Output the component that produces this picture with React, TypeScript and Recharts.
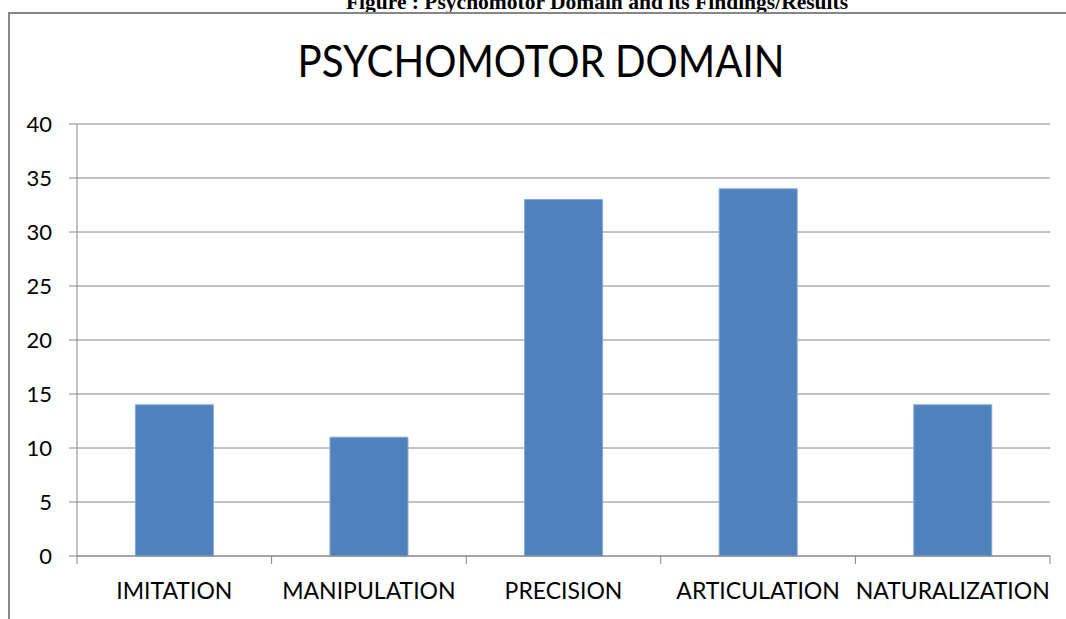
import { BarChart, Bar, XAxis, YAxis, CartesianGrid } from "recharts";

// Psychomotor domain findings
const categories = [
  "IMITATION",
  "MANIPULATION",
  "PRECISION",
  "ARTICULATION",
  "NATURALIZATION",
];
const values = [14, 11, 33, 34, 14];
const yTicks = [0, 5, 10, 15, 20, 25, 30, 35, 40];

const data = categories.map((name, i) => ({ name, value: values[i] }));

const CHART_W = 1058;
const CHART_H = 611;
const MARGIN = { top: 116, right: 16, left: 9, bottom: 13 };
const Y_AXIS_W = 60;
const PLOT_W = CHART_W - MARGIN.left - MARGIN.right - Y_AXIS_W;
const BAND = PLOT_W / categories.length;
const GREY = "#868686";
const FONT = "Lato, 'Open Sans', sans-serif";

// category ticks sit on band boundaries, labels in the middle
function XTick(props: any) {
  const { x, y, payload, index } = props;
  const left = x - BAND / 2;
  const right = x + BAND / 2;
  return (
    <g>
      <line x1={left} x2={left} y1={y - 8} y2={y} stroke={GREY} />
      {index === categories.length - 1 && (
        <line x1={right} x2={right} y1={y - 8} y2={y} stroke={GREY} />
      )}
      <text
        x={x}
        y={y + 35}
        textAnchor="middle"
        fill="#000"
        style={{ fontSize: 23, fontFamily: FONT }}
      >
        {payload.value}
      </text>
    </g>
  );
}

export default function App() {
  // page-space wrapper pinned to the viewport so the cut caption shows like the source
  return (
    <div
      style={{
        position: "absolute",
        left: 0,
        top: 0,
        width: 1066,
        height: 619,
        overflow: "hidden",
      }}
    >
      <div
        style={{
          position: "absolute",
          left: 597,
          top: -8,
          transform: "translateX(-50%)",
          whiteSpace: "nowrap",
          fontFamily: "'Liberation Serif', 'Times New Roman', serif",
          fontWeight: "bold",
          fontSize: 21.5,
          lineHeight: 1,
          color: "#000",
        }}
      >
        Figure : Psychomotor Domain and its Findings/Results
      </div>
      <div
        style={{
          position: "absolute",
          left: 8,
          top: 12,
          width: 1066,
          height: 640,
          border: `2px solid ${GREY}`,
          boxSizing: "border-box",
        }}
      />
      <div
        style={{
          position: "absolute",
          left: 541,
          top: 38,
          transform: "translateX(-50%) scaleX(0.915)",
          whiteSpace: "nowrap",
          fontFamily: FONT,
          fontSize: 44,
          lineHeight: 1,
          color: "#000",
        }}
      >
        PSYCHOMOTOR DOMAIN
      </div>
      <div style={{ position: "absolute", left: 8, top: 8 }}>
        <BarChart
          width={CHART_W}
          height={CHART_H}
          data={data}
          margin={MARGIN}
          barCategoryGap="30%"
        >
          <CartesianGrid vertical={false} stroke={GREY} />
          <XAxis
            dataKey="name"
            axisLine={{ stroke: GREY }}
            tickLine={false}
            tickSize={8}
            tickMargin={0}
            height={50}
            interval={0}
            tick={<XTick />}
          />
          <YAxis
            width={Y_AXIS_W}
            domain={[0, 40]}
            ticks={yTicks}
            interval={0}
            axisLine={{ stroke: GREY }}
            tickLine={{ stroke: GREY }}
            tickSize={8}
            tickMargin={17}
            tick={{ fill: "#000", fontSize: 22, fontFamily: FONT }}
          />
          <Bar
            dataKey="value"
            fill="#4F81BD"
            stroke="#86A8D4"
            strokeWidth={1}
            isAnimationActive={false}
          />
        </BarChart>
      </div>
    </div>
  );
}
